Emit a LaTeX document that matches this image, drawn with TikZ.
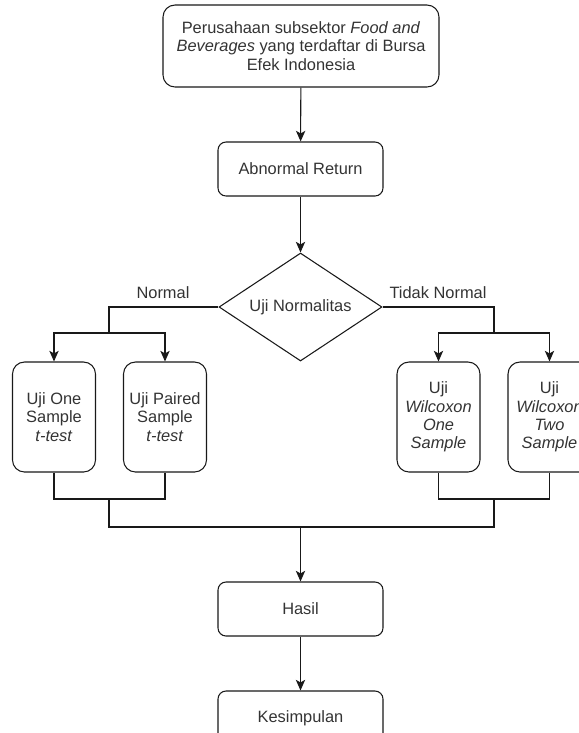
\documentclass[tikz,border=0pt]{standalone}
\usepackage{fontspec}
\setmainfont{Liberation Sans}
\usetikzlibrary{shapes.geometric,arrows.meta}
\begin{document}
\begin{tikzpicture}[x=0.75pt,y=-0.75pt,
  font=\fontsize{12.3pt}{13.8pt}\selectfont,
  every node/.style={text=black!80},
  line/.style={draw=black!90,line width=0.8pt},
  arr/.style={line,-{Stealth[length=8pt,width=7pt,inset=2pt]}},
  wbox/.style={line,rounded corners=6pt,minimum width=123.75pt,minimum height=40.5pt,inner sep=0pt,align=center},
  tbox/.style={line,rounded corners=9pt,minimum width=62.25pt,minimum height=82.5pt,inner sep=0pt,align=center},
  dec/.style={line,diamond,minimum width=122.25pt,minimum height=81pt,inner sep=0pt,aspect=1.5},
  lbl/.style={inner sep=0pt}]
\useasboundingbox (0,0) rectangle (579,733);
\node[line,rounded corners=9pt,minimum width=207pt,minimum height=61.5pt,inner sep=0pt,align=center] (top) at (301,46)
  {Perusahaan subsektor \textit{Food and}\\\textit{Beverages} yang terdaftar di Bursa\\Efek Indonesia};
\node[wbox] (ar) at (300.5,169) {Abnormal Return};
\node[dec] (d) at (300.5,307) {Uji Normalitas};
\node[tbox] (b1) at (54,417) {Uji One\\Sample\\\textit{t-test}};
\node[tbox] (b2) at (165,417) {Uji Paired\\Sample\\\textit{t-test}};
\node[tbox] (b3) at (438.5,417) {Uji\\\textit{Wilcoxon}\\\textit{One}\\\textit{Sample}};
\node[tbox] (b4) at (549.5,417) {Uji\\\textit{Wilcoxon}\\\textit{Two}\\\textit{Sample}};
\node[wbox] (h) at (300.5,609) {Hasil};
\node[wbox] (k) at (300.5,718) {Kesimpulan};
\node[lbl] (ln) at (163,293) {Normal};
\node[lbl] (lt) at (438,293) {Tidak Normal};
\coordinate (ls) at (109,333);
\coordinate (rs) at (494,333);
\coordinate (lm) at (109,499);
\coordinate (rm) at (494,499);
\coordinate (mid) at (300.5,527);
\draw[arr] (top) -- (ar);
\draw[arr] (ar) -- (d);
\draw[line] (d.west) -| (ls);
\draw[line] (d.east) -| (rs);
\draw[arr] (ls) -| (b1);
\draw[arr] (ls) -| (b2);
\draw[arr] (rs) -| (b3);
\draw[arr] (rs) -| (b4);
\draw[line] (b1) |- (lm);
\draw[line] (b2) |- (lm);
\draw[line] (b3) |- (rm);
\draw[line] (b4) |- (rm);
\draw[line] (lm) |- (mid);
\draw[line] (rm) |- (mid);
\draw[arr] (mid) -- (h);
\draw[arr] (h) -- (k);
\end{tikzpicture}
\end{document}
